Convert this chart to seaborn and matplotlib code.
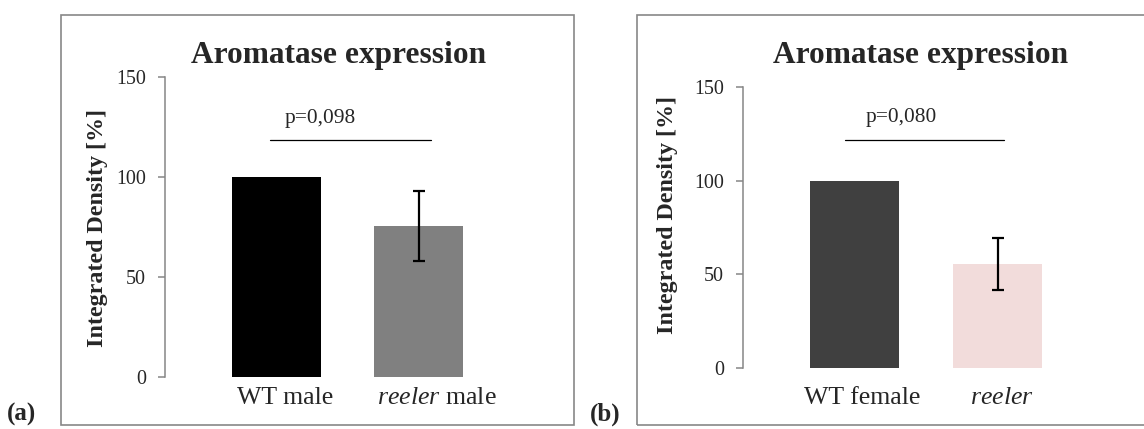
import matplotlib
matplotlib.use("Agg")
import matplotlib.pyplot as plt
import matplotlib.transforms as mtransforms
from matplotlib.patches import Rectangle
import seaborn as sns
import numpy as np

# ---------------- data ----------------
title = "Aromatase expression"
ylabel = "Integrated Density [%]"

cats_a = ["WT male", "reeler male"]
vals_a = [100.0, 75.5]
err_a = [0.0, 17.5]
ticklabels_a = ["WT male", r"$\it{reeler}$ male"]
pval_a = "p=0,098"

cats_b = ["WT female", "reeler"]
vals_b = [100.0, 55.5]
err_b = [0.0, 13.8]
ticklabels_b = ["WT female", r"$\it{reeler}$"]
pval_b = "p=0,080"

colors_a = ["#000000", "#808080"]
colors_b = ["#404040", "#F2DCDB"]
yticks = [0, 50, 100, 150]

# ---------------- style ----------------
sns.set_theme(style="white")
plt.rcParams["font.family"] = ["Liberation Serif", "DejaVu Serif"]
plt.rcParams["mathtext.fontset"] = "custom"
plt.rcParams["mathtext.rm"] = "Liberation Serif"
plt.rcParams["mathtext.it"] = "Liberation Serif:italic"
plt.rcParams["mathtext.bf"] = "Liberation Serif:bold"

W, H = 1144, 429
fig = plt.figure(figsize=(W / 100, H / 100), dpi=100)
fig.patch.set_facecolor("white")

GRAY = "#868686"


def px_axes(left, top_px, width, height):
    return fig.add_axes([left / W, (H - top_px - height) / H, width / W, height / H])


def frame(x0, y0, x1, y1):
    r = Rectangle((x0 / W, (H - y1) / H), (x1 - x0) / W, (y1 - y0) / H,
                  transform=fig.transFigure, fill=False, edgecolor="#878787",
                  linewidth=1.2, zorder=0)
    fig.add_artist(r)


def panel(ax, cats, vals, errs, colors, ticklabels, xlim, pad, offsets,
          pline, ptext, pstr):
    sns.barplot(x=cats, y=vals, hue=cats, palette=colors, width=0.625,
                errorbar=None, legend=False, saturation=1, ax=ax, linewidth=0)
    for i, (v, e) in enumerate(zip(vals, errs)):
        if e > 0:
            ax.errorbar([i], [v], yerr=[e], fmt="none", ecolor="black",
                        elinewidth=1.6, capsize=4.3, capthick=1.6, zorder=5)
    ax.set_xlim(*xlim)
    ax.set_ylim(0, 150)
    ax.set_yticks(yticks)
    ax.set_xticks(range(len(cats)))
    ax.set_xticklabels(ticklabels, fontsize=18.6)
    ax.tick_params(axis="x", length=0, pad=pad)
    ax.tick_params(axis="y", direction="out", length=5, width=1.1, color=GRAY,
                   pad=8.6, labelsize=14.4, left=True)
    for s in ["top", "right", "bottom"]:
        ax.spines[s].set_visible(False)
    ax.spines["left"].set_color(GRAY)
    ax.spines["left"].set_linewidth(1.1)
    ax.set_xlabel("")
    ax.set_ylabel("")
    ax.set_facecolor("none")
    # significance bar
    ax.plot(pline[0], [pline[1], pline[1]], color="black", linewidth=0.9,
            clip_on=False)
    ax.text(ptext[0], ptext[1], pstr, ha="center", va="center", fontsize=15.4)
    for lab, off in zip(ax.get_xticklabels(), offsets):
        lab.set_transform(lab.get_transform() +
                          mtransforms.ScaledTranslation(off / 100, 0, fig.dpi_scale_trans))


# frames
frame(61, 15, 574, 425)
frame(637, 15, 1150, 425)

# left panel
ax1 = px_axes(165, 77, 365, 300)
panel(ax1, cats_a, vals_a, err_a, colors_a, ticklabels_a, (-0.785, 1.785),
      pad=7.0, offsets=[8.5, 18.5],
      pline=([-0.046, 1.088], 118.5), ptext=(0.306, 129.5), pstr=pval_a)

# right panel
ax2 = px_axes(743, 87, 366, 281)
panel(ax2, cats_b, vals_b, err_b, colors_b, ticklabels_b, (-0.777, 1.777),
      pad=13.6, offsets=[7.5, 4.0],
      pline=([-0.066, 1.045], 121.7), ptext=(0.33, 133.5), pstr=pval_b)

# titles
for cx in (339, 920.5):
    fig.text(cx / W, 1 - 56 / H, title, ha="center", va="center",
             fontsize=22.6, fontweight="bold")
# y labels
fig.text(97 / W, 1 - 228 / H, ylabel, ha="center", va="center", rotation=90,
         fontsize=17.3, fontweight="bold")
fig.text(667 / W, 1 - 214.5 / H, ylabel, ha="center", va="center", rotation=90,
         fontsize=17.3, fontweight="bold")
# panel letters
fig.text(22 / W, 1 - 414 / H, "(a)", ha="center", va="center", fontsize=18,
         fontweight="bold")
fig.text(605 / W, 1 - 414 / H, "(b)", ha="center", va="center", fontsize=18,
         fontweight="bold")

fig.savefig("out.png", dpi=100, facecolor="white")
